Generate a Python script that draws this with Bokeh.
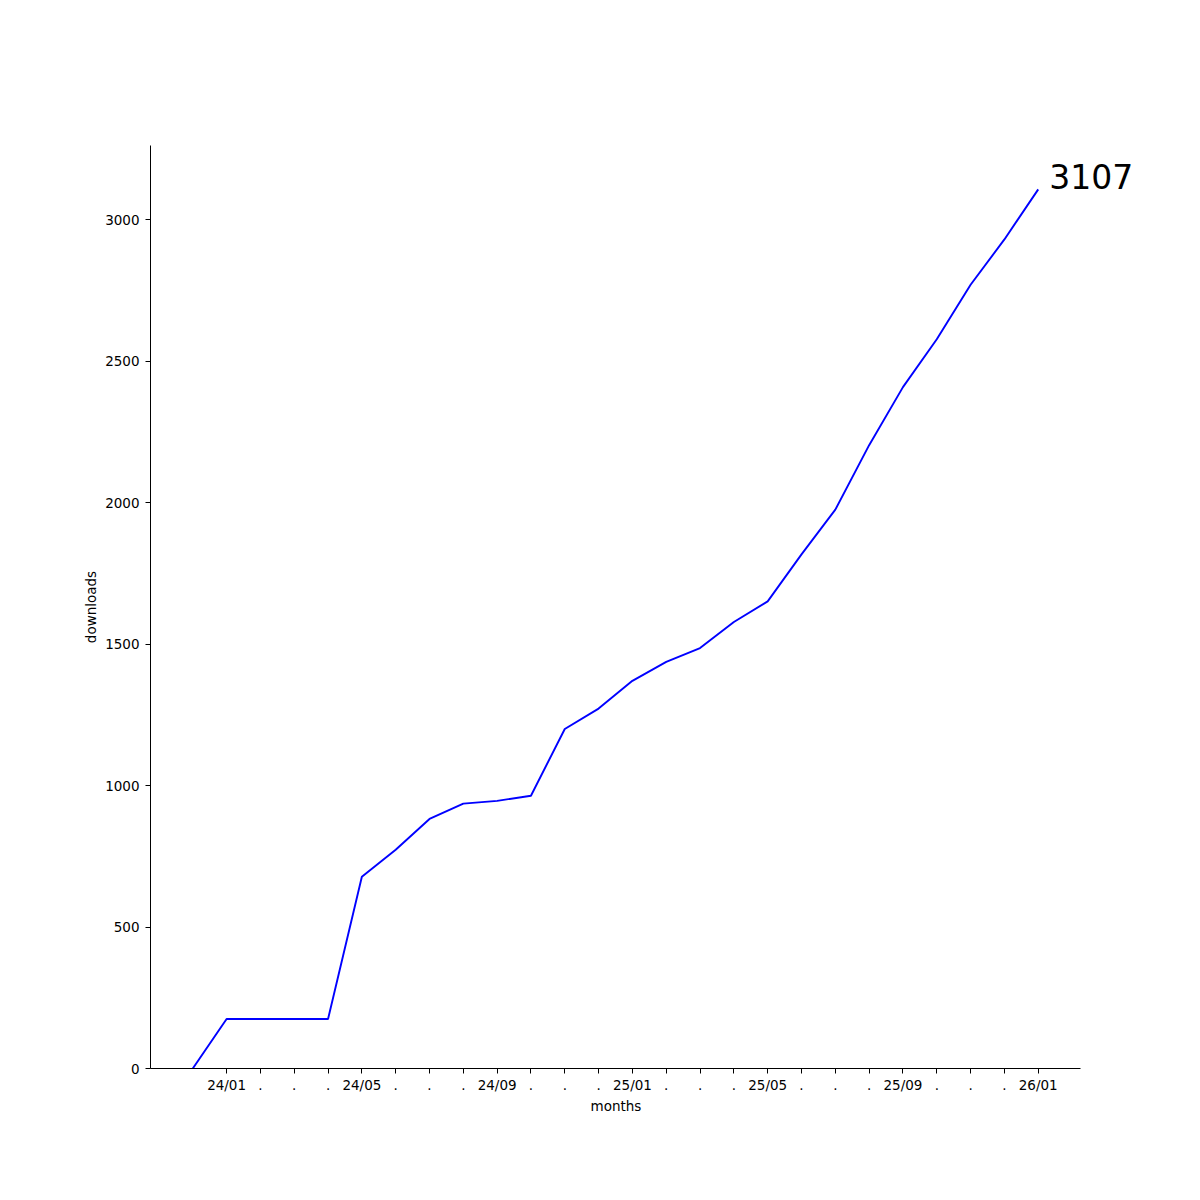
from bokeh.plotting import figure
from bokeh.models import Range1d, FixedTicker, Label, Title
from bokeh.embed import file_html
from bokeh.resources import INLINE

months = ["23/12", "24/01", "24/02", "24/03", "24/04", "24/05", "24/06", "24/07",
          "24/08", "24/09", "24/10", "24/11", "24/12", "25/01", "25/02", "25/03",
          "25/04", "25/05", "25/06", "25/07", "25/08", "25/09", "25/10", "25/11",
          "25/12", "26/01"]
downloads = [0, 175, 175, 175, 175, 678, 773, 882, 936, 946, 964, 1200, 1272,
             1370, 1437, 1486, 1578, 1651, 1817, 1975, 2203, 2408, 2577, 2770,
             2930, 3107]
y_ticks = [0, 500, 1000, 1500, 2000, 2500, 3000]

x_idx = list(range(len(months)))
tick_idx = x_idx[1:]
tick_labels = {i: (months[i] if (i - 1) % 4 == 0 else ".") for i in tick_idx}

FONT = "DejaVu Sans"

# visible axis span, plus extra room on the right so the end label is not clipped
x_lo, x_hi = -1.25, 26.25
px_per_unit = 930 / (x_hi - x_lo)
extra_px = 100
x_end = x_hi + extra_px / px_per_unit

p = figure(width=1184, height=1184, output_backend="svg", toolbar_location=None,
           x_range=Range1d(x_lo, x_end), y_range=Range1d(0, 3262),
           min_border_left=150, min_border_right=104 - extra_px, min_border_top=145,
           min_border_bottom=116)
p.outline_line_color = None
p.xgrid.visible = False
p.ygrid.visible = False
p.background_fill_color = "white"
p.border_fill_color = "white"

p.line(x_idx, downloads, line_color="blue", line_width=1.9)
lbl = Label(x=x_idx[-1], y=downloads[-1], text=str(downloads[-1]),
            x_units="data", y_units="data", x_offset=11, y_offset=13,
            text_font=FONT, text_font_size="33px", text_color="black",
            text_baseline="alphabetic", text_align="left", level="overlay")
p.add_layout(lbl)

for ax in (p.xaxis[0], p.yaxis[0]):
    ax.axis_line_color = "black"
    ax.axis_line_width = 1
    ax.major_tick_line_color = "black"
    ax.major_tick_in = 0
    ax.major_tick_out = 5
    ax.minor_tick_line_color = None
    ax.major_label_text_font = FONT
    ax.major_label_text_font_size = "13.5px"
    ax.major_label_text_color = "black"
    ax.axis_label_text_font = FONT
    ax.axis_label_text_font_size = "13.5px"
    ax.axis_label_text_font_style = "normal"
    ax.axis_label_text_color = "black"

p.xaxis.bounds = (x_lo, x_hi)
p.xaxis.ticker = FixedTicker(ticks=tick_idx)
p.xaxis.major_label_overrides = tick_labels
p.xaxis.major_label_standoff = 3

# x-axis title, centred under the visible axis span (not the widened frame)
xtitle = Title(text="months", align="left", offset=440,
               text_font=FONT, text_font_size="13.5px", text_font_style="normal",
               text_color="black", standoff=0, text_line_height=0.9)
p.add_layout(xtitle, "below")

p.yaxis.ticker = FixedTicker(ticks=y_ticks)
p.yaxis.axis_label = "downloads"
p.yaxis.major_label_standoff = 6
p.yaxis.axis_label_standoff = 3

open("out.html", "w").write(file_html(p, INLINE))
